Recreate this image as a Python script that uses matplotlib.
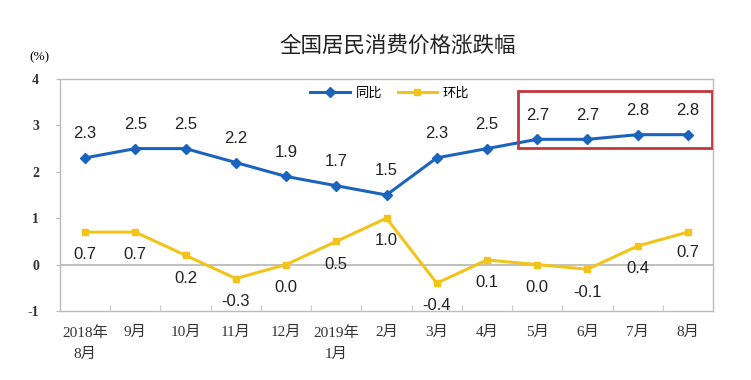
import matplotlib
matplotlib.use("Agg")
import matplotlib.pyplot as plt
from matplotlib.patches import Rectangle

plt.rcParams['font.family'] = ['Liberation Serif', 'Noto Sans CJK SC']

categories = ["2018年\n8月", "9月", "10月", "11月", "12月", "2019年\n1月", "2月",
              "3月", "4月", "5月", "6月", "7月", "8月"]
yoy = [2.3, 2.5, 2.5, 2.2, 1.9, 1.7, 1.5, 2.3, 2.5, 2.7, 2.7, 2.8, 2.8]
mom = [0.7, 0.7, 0.2, -0.3, 0.0, 0.5, 1.0, -0.4, 0.1, 0.0, -0.1, 0.4, 0.7]
yticks = [-1, 0, 1, 2, 3, 4]
title = "全国居民消费价格涨跌幅"
blue = "#1b64be"
yellow = "#f2c419"
red = "#c0393f"

fig = plt.figure(figsize=(7.51, 3.80), dpi=100)
ax = fig.add_axes([0.0799, 0.1816, 0.8695, 0.6105])
x = list(range(len(categories)))

ax.plot(x, yoy, color=blue, lw=2.2, marker='D', ms=5, label="同比", zorder=4)
ax.plot(x, mom, color=yellow, lw=2.2, marker='s', ms=4.5, label="环比", zorder=4)

lab_font = dict(family=['Liberation Sans', 'Noto Sans CJK SC'], fontsize=12, color='#222222')
for xi, v in zip(x, yoy):
    ax.annotate(f"{v:.1f}", (xi, v), xytext=(0, 12), textcoords='offset points',
                ha='center', va='bottom', **lab_font)
for xi, v in zip(x, mom):
    off = -9 if xi == len(x) - 1 else -11
    ax.annotate(f"{v:.1f}", (xi, v), xytext=(0, off), textcoords='offset points',
                ha='center', va='top', **lab_font)

ax.set_xlim(-0.5, len(categories) - 0.5)
ax.set_ylim(-1, 4)
ax.set_yticks(yticks)
ax.set_yticklabels([str(t) for t in yticks], fontsize=10, fontweight='bold', color='#333333')
ax.set_xticks(x)
ax.set_xticklabels(categories, fontsize=11, linespacing=1.75, color='#333333')
ax.tick_params(axis='x', length=0, pad=11)
ax.tick_params(axis='y', length=3, color='#bbbbbb', pad=12)
for s in ax.spines.values():
    s.set_color('#bcbcbc')
    s.set_linewidth(1.0)

ax.axhline(0, color='#b5b5b5', lw=1.2, zorder=2)
sec = ax.secondary_xaxis(0)
sec.set_xticks([i + 0.5 for i in range(len(categories) - 1)])
sec.set_xticklabels([])
sec.tick_params(direction='in', length=4, color='#c8c8c8')
sec.spines['bottom'].set_visible(False)

rect = Rectangle((8.62, 2.51), 3.86, 1.23, fill=False, edgecolor=red, lw=2, zorder=5)
ax.add_patch(rect)

leg = ax.legend(loc='center', bbox_to_anchor=(0.505, 0.94), ncol=2, frameon=False,
                prop={'family': ['Noto Sans CJK SC'], 'size': 9.5}, handlelength=3,
                columnspacing=1.2, handletextpad=0.4)

fig.text(0.53, 0.88, title, ha='center', va='center', fontsize=15.5,
         family=['Noto Sans CJK SC'], color='#222222')
fig.text(0.052, 0.85, "(%)", ha='center', va='center', fontsize=9.5)

fig.savefig("out.png", dpi=100, facecolor='white')
